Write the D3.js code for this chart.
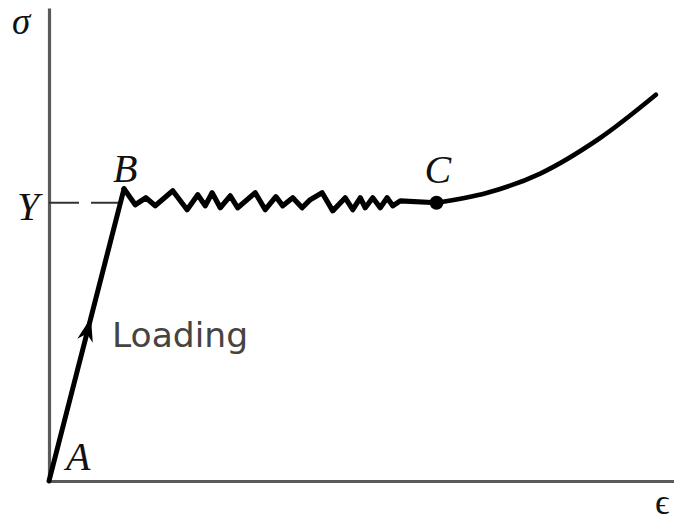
<!DOCTYPE html>
<html>
<head>
<meta charset="utf-8">
<script src="https://cdn.jsdelivr.net/npm/d3@7/dist/d3.min.js"></script>
<style>
  html, body { margin: 0; padding: 0; background: #fff; }
  svg { display: block; }
</style>
</head>
<body>
<svg id="chart" width="674" height="523"></svg>
<script>
// Idealised stress–strain curve: elastic loading, yield plateau, strain hardening.
// Strain in arbitrary units, stress normalised to the yield stress Y.

const yieldStress = 1.0;

// Elastic loading from A to the upper yield point B
const loading = [[0, 0], [1.2, 1.05]];

// Serrated yield plateau from B to C
const plateau = [
  [1.20, 1.050], [1.38, 0.993], [1.55, 1.018], [1.70, 0.989], [1.98, 1.043],
  [2.21, 0.975], [2.38, 1.029], [2.50, 0.989], [2.61, 1.036], [2.74, 0.982],
  [2.90, 1.025], [3.02, 0.982], [3.30, 1.036], [3.46, 0.975], [3.63, 1.022],
  [3.74, 0.989], [3.90, 1.018], [4.05, 0.982], [4.18, 1.011], [4.37, 1.036],
  [4.54, 0.971], [4.74, 1.018], [4.86, 0.975], [4.98, 1.018], [5.06, 0.982],
  [5.18, 1.018], [5.30, 0.982], [5.41, 1.018], [5.50, 0.989], [5.62, 1.007],
  [6.20, 1.000]
];

// Strain hardening beyond C
const hardening = [
  [6.20, 1.000], [7.00, 1.035], [7.86, 1.105], [8.80, 1.230], [9.71, 1.388]
];

// Point labels: name, strain, stress
const pointNames = ["A", "B", "C"];
const pointStrain = [0, 1.2, 6.2];
const pointStress = [0, 1.05, 1.0];

const axisLabels = { stress: "σ", strain: "ϵ", yield: "Y" };
const loadingText = "Loading";

const svg = d3.select("#chart");
const W = 674, H = 523;

const x = d3.scaleLinear().domain([0, 10]).range([49, 674]);
const y = d3.scaleLinear().domain([0, 1.7]).range([481, 8]);

const serif = "'Liberation Serif', 'Times New Roman', serif";
const sans = "'DejaVu Sans', sans-serif";

// Axes without ticks
const axisColor = "#5a5a5a";
const gx = svg.append("g").attr("transform", `translate(0,${y(0)})`)
  .call(d3.axisBottom(x).tickValues([]).tickSizeOuter(0));
const gy = svg.append("g").attr("transform", `translate(${x(0)},0)`)
  .call(d3.axisLeft(y).tickValues([]).tickSizeOuter(0));
[gx, gy].forEach(g => g.select(".domain")
  .attr("stroke", axisColor).attr("stroke-width", 3.2));

// Dashed guide at the yield stress, from the axis to the loading line
const xAtYield = loading[0][0] + (loading[1][0] - loading[0][0]) *
  (yieldStress - loading[0][1]) / (loading[1][1] - loading[0][1]);
svg.append("line")
  .attr("x1", x(0)).attr("x2", x(xAtYield))
  .attr("y1", y(yieldStress)).attr("y2", y(yieldStress))
  .attr("stroke", "#333").attr("stroke-width", 1.8)
  .attr("stroke-dasharray", "30,12");

const line = d3.line().x(d => x(d[0])).y(d => y(d[1]));

svg.append("path").datum(loading)
  .attr("d", line)
  .attr("fill", "none").attr("stroke", "#000")
  .attr("stroke-width", 5).attr("stroke-linecap", "round");

svg.append("path").datum(plateau)
  .attr("d", line)
  .attr("fill", "none").attr("stroke", "#000")
  .attr("stroke-width", 5.2).attr("stroke-linejoin", "round")
  .attr("stroke-linecap", "round");

svg.append("path").datum(hardening)
  .attr("d", d3.line().x(d => x(d[0])).y(d => y(d[1])).curve(d3.curveCatmullRom))
  .attr("fill", "none").attr("stroke", "#000")
  .attr("stroke-width", 4.6).attr("stroke-linecap", "round");

// Point C marker
svg.append("circle")
  .attr("cx", x(pointStrain[2])).attr("cy", y(pointStress[2]))
  .attr("r", 7).attr("fill", "#000");

// Arrowhead on the loading line
const t = 0.56;
const ax = x(loading[0][0] + t * (loading[1][0] - loading[0][0]));
const ay = y(loading[0][1] + t * (loading[1][1] - loading[0][1]));
const ang = Math.atan2(y(loading[1][1]) - y(loading[0][1]),
                       x(loading[1][0]) - x(loading[0][0])) * 180 / Math.PI;
svg.append("path")
  .attr("d", "M0,0 L-24,-8 L-17,0 L-24,8 Z")
  .attr("transform", `translate(${ax},${ay}) rotate(${ang})`)
  .attr("fill", "#000");

// Labels
svg.append("text").text(loadingText)
  .attr("x", ax + 21).attr("y", ay + 30)
  .attr("font-family", sans).attr("font-size", 34.5)
  .attr("fill", "#444");

const labelOffsets = [[17, -11], [-11, -7], [-12, -20]];
pointNames.forEach((n, i) => {
  svg.append("text").text(n)
    .attr("x", x(pointStrain[i]) + labelOffsets[i][0])
    .attr("y", y(pointStress[i]) + labelOffsets[i][1])
    .attr("font-family", serif).attr("font-style", "italic")
    .attr("font-size", 40).attr("fill", "#111");
});

svg.append("text").text(axisLabels.yield)
  .attr("x", x(0) - 32).attr("y", y(yieldStress) + 17)
  .attr("font-family", serif).attr("font-style", "italic")
  .attr("font-size", 40).attr("fill", "#111");

svg.append("text").text(axisLabels.stress)
  .attr("x", x(0) - 37).attr("y", 34)
  .attr("font-family", serif).attr("font-style", "italic")
  .attr("font-size", 37).attr("fill", "#111");

svg.append("text").text(axisLabels.strain)
  .attr("x", W - 19).attr("y", H - 9)
  .attr("font-family", serif)
  .attr("font-size", 36).attr("fill", "#111");
</script>
</body>
</html>
